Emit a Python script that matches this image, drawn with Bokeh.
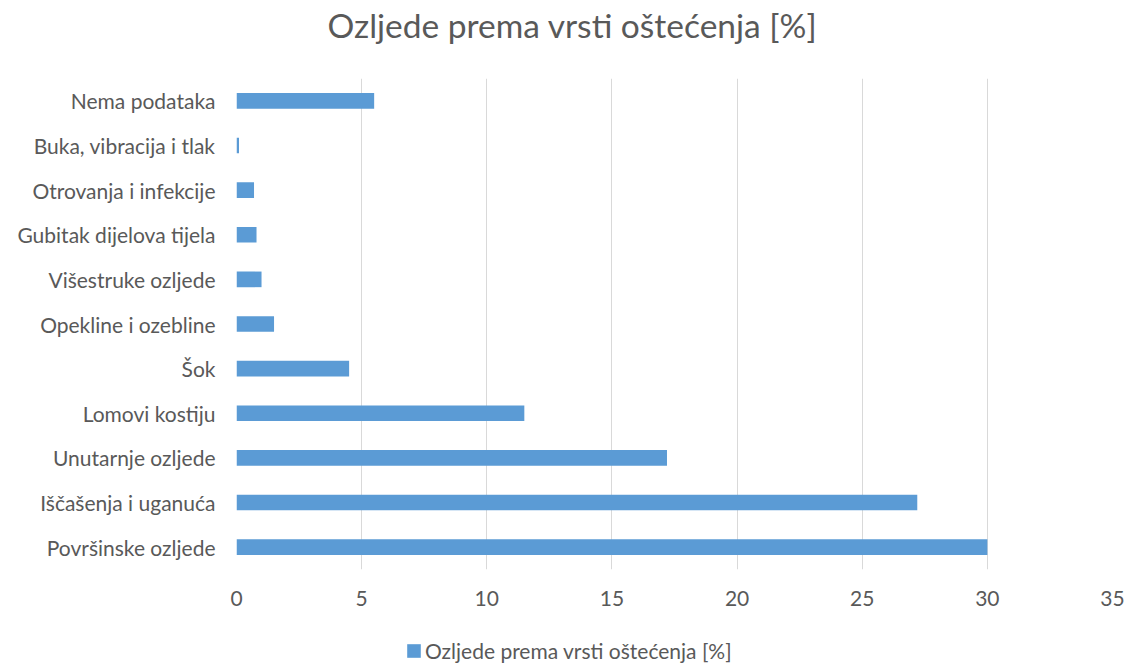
from bokeh.plotting import figure
from bokeh.layouts import column
from bokeh.models import (Range1d, FactorRange, FixedTicker, Legend, LegendItem,
                          ColumnDataSource, Label)
from bokeh.embed import file_html
from bokeh.resources import INLINE

categories = ["Nema podataka", "Buka, vibracija i tlak", "Otrovanja i infekcije",
              "Gubitak dijelova tijela", "Višestruke ozljede", "Opekline i ozebline",
              "Šok", "Lomovi kostiju", "Unutarnje ozljede", "Iščašenja i uganuća",
              "Površinske ozljede"]
values = [5.5, 0.1, 0.7, 0.8, 1.0, 1.5, 4.5, 11.5, 17.2, 27.2, 30.0]
x_ticks = [0, 5, 10, 15, 20, 25, 30, 35]
series_name = "Ozljede prema vrsti oštećenja [%]"
title_text = "Ozljede prema vrsti oštećenja [%]"

FONT = "Lato"
TXT = "#595959"
BAR = "#5B9BD5"
W = 1127


def blank(fig):
    fig.axis.visible = False
    fig.grid.visible = False
    fig.outline_line_color = None


# ---- header with title ----
head = figure(width=W, height=60, output_backend="svg", toolbar_location=None,
              x_range=Range1d(0, 1), y_range=Range1d(0, 1), min_border=0)
blank(head)
head.add_layout(Label(x=336, y=36, x_units="screen", y_units="screen", text=title_text,
                      text_align="center", text_baseline="alphabetic",
                      text_font=FONT, text_font_size="33.5px", text_color=TXT))

# ---- main chart ----
src = ColumnDataSource(dict(cat=categories, val=values))

p = figure(width=W, height=570, output_backend="svg", toolbar_location=None,
           y_range=FactorRange(factors=categories[::-1], range_padding=0),
           x_range=Range1d(0, 35),
           min_border_left=236, min_border_right=15, min_border_top=18, min_border_bottom=61)

p.hbar(y="cat", left=0, right="val", height=0.35, source=src,
       fill_color=BAR, line_color=None)

p.outline_line_color = None
p.xgrid.grid_line_color = "#D9D9D9"
p.xgrid.grid_line_width = 1
p.ygrid.grid_line_color = None

p.xaxis.ticker = FixedTicker(ticks=x_ticks)
p.xaxis.axis_line_color = None
p.xaxis.major_tick_line_color = None
p.xaxis.minor_tick_line_color = None
p.xaxis.major_tick_out = 0
p.xaxis.major_label_standoff = 21
p.xaxis.major_label_text_font = FONT
p.xaxis.major_label_text_font_size = "21px"
p.xaxis.major_label_text_color = TXT

p.yaxis.axis_line_color = None
p.yaxis.major_tick_line_color = None
p.yaxis.major_tick_out = 0
p.yaxis.major_label_standoff = 21
p.yaxis.major_label_text_font = FONT
p.yaxis.major_label_text_font_size = "21px"
p.yaxis.major_label_text_color = TXT

# ---- legend strip ----
leg = figure(width=W, height=33, output_backend="svg", toolbar_location=None,
             x_range=Range1d(0, 35),
             y_range=FactorRange(factors=categories[::-1], range_padding=0),
             min_border=0)
blank(leg)
lr = leg.hbar(y="cat", left=0, right="val", height=0.35, source=src,
              fill_color=BAR, line_color=None, visible=False)
legend = Legend(items=[LegendItem(label=series_name, renderers=[lr])],
                location=(169, 0), orientation="horizontal",
                border_line_color=None, background_fill_alpha=0,
                inactive_fill_alpha=0, click_policy="none",
                label_text_font=FONT, label_text_font_size="21px", label_text_color=TXT,
                glyph_width=17, glyph_height=17, label_standoff=3, padding=0, margin=0)
leg.add_layout(legend, "center")

layout = column(head, p, leg, spacing=0)
open("out.html", "w").write(file_html(layout, INLINE))
